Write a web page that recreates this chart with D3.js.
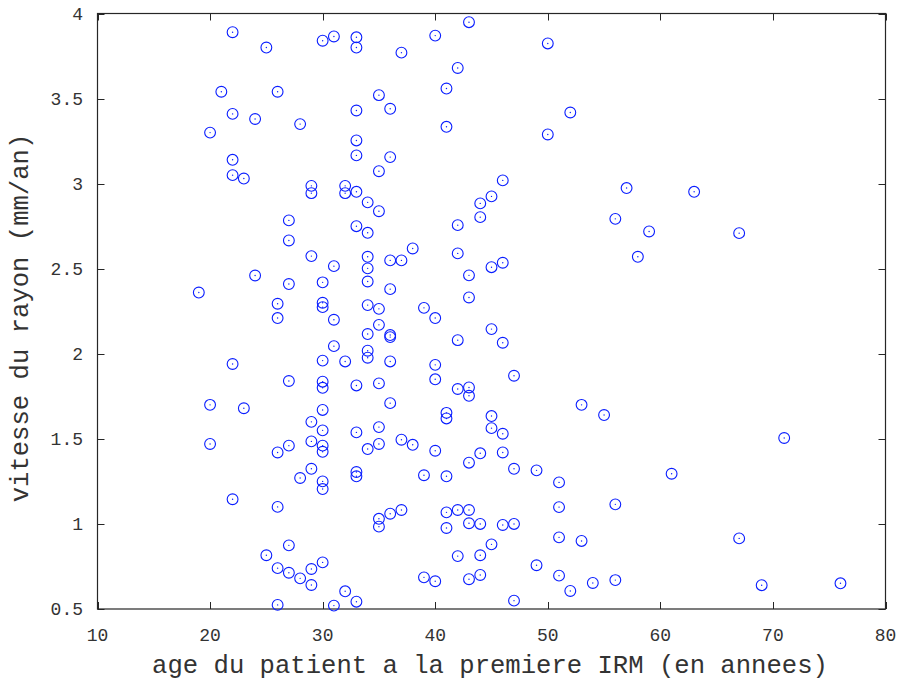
<!DOCTYPE html>
<html><head><meta charset="utf-8">
<script src="https://cdn.jsdelivr.net/npm/d3@7"></script>
<style>body{margin:0;background:#fff}svg{display:block}</style>
</head><body>
<svg id="c" width="900" height="681"></svg>
<script>
const ages = [
 19,
 20,20,20,
 21,
 22,22,22,22,22,22,
 23,23,
 24,24,
 25,25,
 26,26,26,26,26,26,26,
 27,27,27,27,27,27,27,
 28,28,28,
 29,29,29,29,29,29,29,29,
 30,30,30,30,30,30,30,30,30,30,30,30,30,30,
 31,31,31,31,31,
 32,32,32,32,
 33,33,33,33,33,33,33,33,33,33,33,33,
 34,34,34,34,34,34,34,34,34,34,
 35,35,35,35,35,35,35,35,35,35,
 36,36,36,36,36,36,36,36,36,
 37,37,37,37,
 38,38,
 39,39,39,
 40,40,40,40,40,40,
 41,41,41,41,41,41,41,
 42,42,42,42,42,42,42,
 43,43,43,43,43,43,43,43,43,
 44,44,44,44,44,44,
 45,45,45,45,45,45,
 46,46,46,46,46,46,
 47,47,47,47,
 49,49,
 50,50,
 51,51,51,51,
 52,52,
 53,53,
 54,
 55,
 56,56,56,
 57,58,59,61,63,
 67,67,
 69,71,76
];
const speeds = [
 2.36,
 3.30,1.70,1.47,
 3.54,
 3.89,3.41,3.14,3.05,1.94,1.145,
 3.03,1.68,
 3.38,2.46,
 3.80,0.816,
 3.54,2.294,2.21,1.42,1.10,0.74,0.524,
 2.784,2.666,2.41,1.84,1.46,0.874,0.713,
 3.35,1.27,0.68,
 2.987,2.944,2.574,1.60,1.485,1.324,0.735,0.641,
 3.84,2.42,2.30,2.274,1.96,1.836,1.80,1.67,1.55,1.46,1.424,1.25,1.205,0.774,
 3.865,2.515,2.20,2.045,0.52,
 2.987,2.944,1.955,0.604,
 3.86,3.80,3.43,3.254,3.166,2.952,2.75,1.814,1.538,1.305,1.28,0.543,
 2.89,2.711,2.57,2.502,2.425,2.286,2.116,2.018,1.977,1.44,
 3.52,3.073,2.838,2.264,2.17,1.826,1.569,1.47,1.03,0.984,
 3.44,3.156,2.549,2.38,2.11,2.098,1.955,1.71,1.06,
 3.77,2.549,1.495,1.082,
 2.619,1.465,
 2.27,1.286,0.686,
 3.87,2.21,1.935,1.85,1.43,0.663,
 3.559,3.334,1.653,1.62,1.28,1.068,0.976,
 3.68,2.756,2.59,2.08,1.793,1.082,0.811,
 3.949,2.461,2.331,1.802,1.753,1.36,1.082,1.004,0.675,
 2.884,2.803,1.415,1.0,0.816,0.70,
 2.925,2.509,2.145,1.634,1.563,0.88,
 3.019,2.535,2.065,1.53,1.42,0.994,
 1.871,1.324,1.0,0.549,
 1.315,0.757,
 3.824,3.289,
 1.244,1.099,0.921,0.696,
 3.418,0.606,
 1.70,0.90,
 0.653,
 1.64,
 2.793,1.115,0.67,
 2.974,2.57,2.719,1.295,2.952,
 2.709,0.915,
 0.64,1.505,0.651
];
const xTicks = [10,20,30,40,50,60,70,80];
const yTicks = [0.5,1,1.5,2,2.5,3,3.5,4];
const xTickLabels = ["10","20","30","40","50","60","70","80"];
const yTickLabels = ["0.5","1","1.5","2","2.5","3","3.5","4"];
const xLabel = "age du patient a la premiere IRM (en annees)";
const yLabel = "vitesse du rayon (mm/an)";

const L = 97.5, R = 885.5, T = 13.5, B = 609;
const x = d3.scaleLinear().domain([10,80]).range([L,R]);
const y = d3.scaleLinear().domain([0.5,4]).range([B,T]);
const svg = d3.select("#c");
const font = "'Liberation Mono', monospace";
const axisColor = "#262626";
const textColor = "#333333";
const tk = 7;

// frame
svg.append("rect").attr("x",L).attr("y",T).attr("width",R-L).attr("height",B-T)
  .attr("fill","none").attr("stroke",axisColor).attr("stroke-width",1.2);

const g = svg.append("g");
xTicks.forEach((v,i)=>{
  const px = Math.round(x(v))+0.5;
  g.append("line").attr("x1",px).attr("x2",px).attr("y1",B).attr("y2",B-tk).attr("stroke",axisColor);
  g.append("line").attr("x1",px).attr("x2",px).attr("y1",T).attr("y2",T+tk).attr("stroke",axisColor);
  g.append("text").attr("x",x(v)).attr("y",641).attr("text-anchor","middle")
    .attr("font-family",font).attr("font-size",18).attr("fill",textColor).text(xTickLabels[i]);
});
yTicks.forEach((v,i)=>{
  const py = Math.round(y(v))+0.5;
  g.append("line").attr("x1",L).attr("x2",L+tk).attr("y1",py).attr("y2",py).attr("stroke",axisColor);
  g.append("line").attr("x1",R).attr("x2",R-tk).attr("y1",py).attr("y2",py).attr("stroke",axisColor);
  g.append("text").attr("x",83).attr("y",y(v)+6).attr("text-anchor","end")
    .attr("font-family",font).attr("font-size",18).attr("fill",textColor).text(yTickLabels[i]);
});

svg.append("text").attr("x",490).attr("y",673).attr("text-anchor","middle")
  .attr("font-family",font).attr("font-size",25.6).attr("fill",textColor).text(xLabel);
svg.append("text").attr("transform","translate(28,318) rotate(-90)")
  .attr("text-anchor","middle")
  .attr("font-family",font).attr("font-size",25.6).attr("fill",textColor).text(yLabel);

const data = ages.map((a,i)=>({a, s:speeds[i]}));
const pts = svg.append("g");
pts.selectAll("circle.o").data(data).join("circle").attr("class","o")
  .attr("cx",d=>x(d.a)).attr("cy",d=>y(d.s)).attr("r",5.4)
  .attr("fill","none").attr("stroke","#0a1eff").attr("stroke-width",1.1);
pts.selectAll("circle.d").data(data).join("circle").attr("class","d")
  .attr("cx",d=>x(d.a)).attr("cy",d=>y(d.s)).attr("r",0.7)
  .attr("fill","#0a1eff");
</script>
</body></html>
